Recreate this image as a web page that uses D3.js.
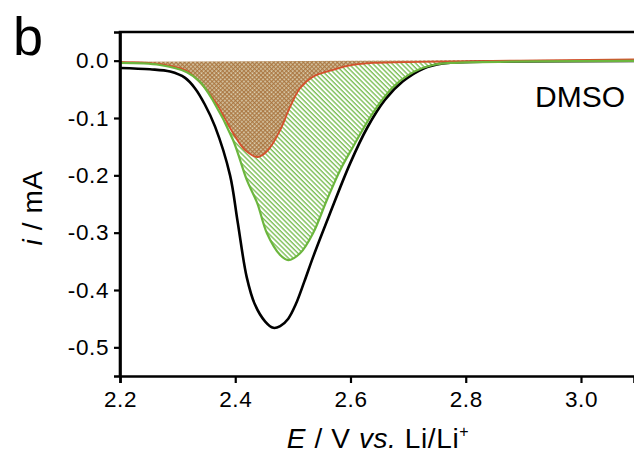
<!DOCTYPE html>
<html>
<head>
<meta charset="utf-8">
<script src="https://cdn.jsdelivr.net/npm/d3@7"></script>
<style>
  html, body { margin: 0; padding: 0; background: #fff; }
  svg { display: block; }
  text { font-family: "Liberation Sans", Arial, Helvetica, sans-serif; fill: #000; }
</style>
</head>
<body>
<svg id="chart" width="634" height="455"></svg>
<script>
// ---- Data ----
const xTicks = [2.2, 2.4, 2.6, 2.8, 3.0];
const yTicks = [0.0, -0.1, -0.2, -0.3, -0.4, -0.5];

// Black curve (total discharge current)
const blackE = [2.200, 2.252, 2.287, 2.313, 2.330, 2.347, 2.365, 2.391, 2.404, 2.420, 2.434, 2.452, 2.466, 2.478, 2.492, 2.505, 2.520, 2.536, 2.563, 2.599, 2.629, 2.660, 2.691, 2.726, 2.760, 2.830, 3.092];
const blackI = [-0.0127, -0.015, -0.019, -0.030, -0.048, -0.076, -0.115, -0.200, -0.280, -0.378, -0.425, -0.455, -0.466, -0.463, -0.450, -0.425, -0.385, -0.340, -0.270, -0.180, -0.117, -0.068, -0.036, -0.014, -0.005, -0.002, -0.0005];

// Green curve (hatched area)
const greenE = [2.200, 2.269, 2.316, 2.339, 2.361, 2.396, 2.420, 2.438, 2.455, 2.478, 2.492, 2.5125, 2.535, 2.559, 2.582, 2.604, 2.639, 2.674, 2.709, 2.743, 2.773, 3.092];
const greenI = [-0.004, -0.0075, -0.020, -0.037, -0.069, -0.138, -0.208, -0.248, -0.301, -0.339, -0.348, -0.336, -0.301, -0.243, -0.191, -0.151, -0.091, -0.046, -0.020, -0.0075, -0.004, -0.0005];

// Red curve (cross-hatched area)
const redE = [2.200, 2.269, 2.316, 2.361, 2.396, 2.417, 2.4396, 2.457, 2.478, 2.495, 2.5125, 2.535, 2.570, 2.604, 2.639, 2.720, 3.092];
const redI = [-0.002, -0.006, -0.018, -0.065, -0.126, -0.156, -0.168, -0.156, -0.121, -0.081, -0.048, -0.028, -0.016, -0.0075, -0.004, -0.002, 0.002];

const panelLabel = "b";
const solventLabel = "DMSO";

// ---- Layout ----
const svg = d3.select("#chart");
const mLeft = 120, mTop = 32, mRight = 634, mBottom = 376;

const x = d3.scaleLinear().domain([2.2, 3.092]).range([mLeft, mRight]);
const y = d3.scaleLinear().domain([-0.55, 0.05]).range([mBottom, mTop]);

const defs = svg.append("defs");
defs.append("clipPath").attr("id", "clip")
  .append("rect").attr("x", mLeft).attr("y", mTop).attr("width", mRight - mLeft).attr("height", mBottom - mTop);

const gp = defs.append("pattern").attr("id", "greenHatch")
  .attr("patternUnits", "userSpaceOnUse").attr("width", 3.4).attr("height", 3.4)
  .attr("patternTransform", "rotate(-45)");
gp.append("rect").attr("width", 3.4).attr("height", 3.4).attr("fill", "#ffffff");
gp.append("line").attr("x1", 1).attr("y1", 0).attr("x2", 1).attr("y2", 3.4)
  .attr("stroke", "#7cbf56").attr("stroke-width", 1.4);

const bp = defs.append("pattern").attr("id", "brownHatch")
  .attr("patternUnits", "userSpaceOnUse").attr("width", 3).attr("height", 3)
  .attr("patternTransform", "rotate(45)");
bp.append("rect").attr("width", 3).attr("height", 3).attr("fill", "#ddd3b4");
bp.append("line").attr("x1", 0.7).attr("y1", 0).attr("x2", 0.7).attr("y2", 3)
  .attr("stroke", "#a9743e").attr("stroke-width", 1.2);
bp.append("line").attr("x1", 0).attr("y1", 0.7).attr("x2", 3).attr("y2", 0.7)
  .attr("stroke", "#a9743e").attr("stroke-width", 1.2);

const zip = (E, I) => E.map((e, k) => ({e, i: I[k]}));
const line = d3.line().x(d => x(d.e)).y(d => y(d.i)).curve(d3.curveCatmullRom.alpha(0.5));

const plot = svg.append("g").attr("clip-path", "url(#clip)");

plot.append("path").attr("d", line(zip(greenE, greenI)) + "Z")
  .attr("fill", "url(#greenHatch)").attr("stroke", "none");
plot.append("path").attr("d", line(zip(redE, redI)) + "Z")
  .attr("fill", "url(#brownHatch)").attr("stroke", "none");

plot.append("path").attr("d", line(zip(blackE, blackI)))
  .attr("fill", "none").attr("stroke", "#000").attr("stroke-width", 2.6);
plot.append("path").attr("d", line(zip(redE, redI)))
  .attr("fill", "none").attr("stroke", "#d4502c").attr("stroke-width", 1.8);
plot.append("path").attr("d", line(zip(greenE, greenI)))
  .attr("fill", "none").attr("stroke", "#6cb63e").attr("stroke-width", 2.2);

// ---- Axes ----
const xAxis = svg.append("g").attr("transform", `translate(0,${mBottom})`)
  .call(d3.axisBottom(x).tickValues(xTicks).tickFormat(d3.format(".1f")).tickSizeOuter(0).tickSize(7).tickPadding(8));
const yAxis = svg.append("g").attr("transform", `translate(${mLeft},0)`)
  .call(d3.axisLeft(y).tickValues(yTicks).tickFormat(d3.format(".1f")).tickSizeOuter(0).tickSize(6).tickPadding(5));

[xAxis, yAxis].forEach(g => {
  g.select(".domain").attr("stroke", "#000").attr("stroke-width", 2.6);
  g.selectAll(".tick line").attr("stroke", "#000").attr("stroke-width", 2.2);
  g.selectAll(".tick text").attr("font-size", 22.5).attr("fill", "#000")
    .attr("letter-spacing", 0.6)
    .style("font-family", '"Liberation Sans", Arial, sans-serif');
});
yAxis.selectAll(".tick text").text(d => d3.format(".1f")(d).replace("−", "-"));

// top frame line
svg.append("line").attr("x1", mLeft - 1.3).attr("x2", mRight).attr("y1", mTop).attr("y2", mTop)
  .attr("stroke", "#000").attr("stroke-width", 2.6);
svg.append("line").attr("x1", mLeft).attr("x2", mLeft).attr("y1", mTop).attr("y2", mBottom)
  .attr("stroke", "#000").attr("stroke-width", 2.6);

// ---- Labels ----
svg.append("text").attr("x", 13).attr("y", 55).attr("font-size", 54).text(panelLabel);
svg.append("text").attr("x", 625).attr("y", 107).attr("text-anchor", "end").attr("font-size", 30).text(solventLabel);

const xl = svg.append("text").attr("x", 378).attr("y", 448).attr("text-anchor", "middle")
  .attr("font-size", 28).attr("letter-spacing", 0.6);
xl.append("tspan").attr("font-style", "italic").text("E");
xl.append("tspan").text(" / V ");
xl.append("tspan").attr("font-style", "italic").text("vs.");
xl.append("tspan").text(" Li/Li");
xl.append("tspan").attr("font-size", 16).attr("dy", -11).text("+");

const yl = svg.append("text").attr("transform", "translate(42,208) rotate(-90)")
  .attr("text-anchor", "middle").attr("font-size", 28).attr("letter-spacing", 0.6);
yl.append("tspan").attr("font-style", "italic").text("i");
yl.append("tspan").text(" / mA");
</script>
</body>
</html>
